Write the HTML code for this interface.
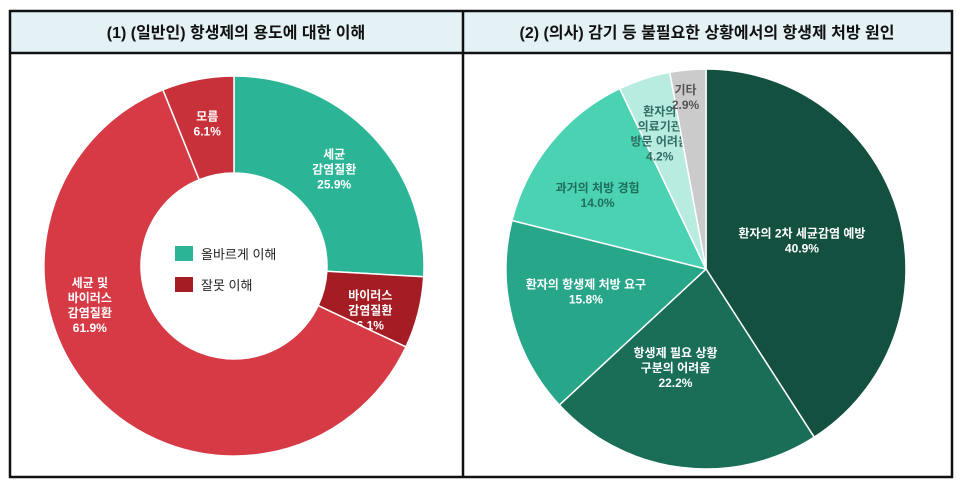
<!DOCTYPE html>
<html><head><meta charset="utf-8"><style>
body{margin:0;background:#fff;font-family:"Liberation Sans","Noto Sans CJK KR",sans-serif;}
#wrap{position:relative;width:960px;height:489px;}
svg text{font-family:"Liberation Sans","Noto Sans CJK KR",sans-serif;}
</style></head><body>
<div id="wrap">
<svg id="svg" width="960" height="489">
<rect x="10" y="11" width="942" height="42" fill="#e4f2f5"/>
<rect x="10" y="11" width="942" height="466" fill="none" stroke="#111" stroke-width="2.5"/>
<line x1="10" y1="53" x2="952" y2="53" stroke="#111" stroke-width="2.5"/>
<line x1="463" y1="11" x2="463" y2="477" stroke="#111" stroke-width="2.5"/>
<text x="236" y="38" text-anchor="middle" font-size="16" font-weight="bold" fill="#111">(1) (일반인) 항생제의 용도에 대한 이해</text>
<text x="707" y="38" text-anchor="middle" font-size="16" font-weight="bold" fill="#111">(2) (의사) 감기 등 불필요한 상황에서의 항생제 처방 원인</text>
<g id="g1"></g><g id="g2"></g>
<rect x="175" y="246" width="18" height="15" fill="#2bb596"/>
<text x="201" y="259" font-size="13" fill="#222">올바르게 이해</text>
<rect x="175" y="277" width="18" height="15" fill="#a51d24"/>
<text x="201" y="290" font-size="13" fill="#222">잘못 이해</text>
</svg></div>
<script>
const donutLabels=[["세균","감염질환"],["바이러스","감염질환"],["세균 및","바이러스","감염질환"],["모름"]];
const donutValues=[25.9,6.1,61.9,6.1];
const donutColors=["#2bb596","#a51d24","#d63a45","#c9313a"];
const pieLabels=[["환자의 2차 세균감염 예방"],["항생제 필요 상황","구분의 어려움"],["환자의 항생제 처방 요구"],["과거의 처방 경험"],["환자의","의료기관","방문 어려움"],["기타"]];
const pieValues=[40.9,22.2,15.8,14.0,4.2,2.9];
const pieColors=["#13503f","#1a6e58","#27a68a","#4bd2b3","#b9ece0","#cbcbcb"];
const NS="http://www.w3.org/2000/svg";
function pt(cx,cy,r,a){return [cx+r*Math.sin(a),cy-r*Math.cos(a)];}
function slice(cx,cy,R,r,a0,a1){
  const big=(a1-a0)>Math.PI?1:0;
  const p0=pt(cx,cy,R,a0),p1=pt(cx,cy,R,a1);
  let d=`M${p0[0]},${p0[1]} A${R},${R} 0 ${big} 1 ${p1[0]},${p1[1]}`;
  if(r>0){const q1=pt(cx,cy,r,a1),q0=pt(cx,cy,r,a0);d+=` L${q1[0]},${q1[1]} A${r},${r} 0 ${big} 0 ${q0[0]},${q0[1]} Z`;}
  else d+=` L${cx},${cy} Z`;
  return d;
}
function draw(gid,vals,labs,cols,cx,cy,R,r,kArr,nameP,textCols){
  const g=document.getElementById(gid);
  const tot=vals.reduce((a,b)=>a+b,0);
  let acc=0;
  vals.forEach((v,i)=>{
    const a0=acc/tot*2*Math.PI;acc+=v;const a1=acc/tot*2*Math.PI;
    const p=document.createElementNS(NS,"path");
    p.setAttribute("d",slice(cx,cy,R,r,a0,a1));
    p.setAttribute("fill",cols[i]);p.setAttribute("stroke","#fff");p.setAttribute("stroke-width","1.5");
    
    
    g.appendChild(p);
    const am=(a0+a1)/2;const k=kArr[i];
    const c=pt(cx,cy,R*k[0],am);
    const lines=labs[i].concat([v.toFixed(1)+"%"]);
    const t=document.createElementNS(NS,"text");
    t.setAttribute("text-anchor","middle");t.setAttribute("font-size","12");t.setAttribute("font-weight","bold");
    t.setAttribute("fill",textCols[i]);
    
    
    const lh=15,y0=c[1]+k[2]-(lines.length-1)*lh/2+4;
    lines.forEach((s,j)=>{const ts=document.createElementNS(NS,"tspan");ts.setAttribute("x",c[0]+k[1]);ts.setAttribute("y",y0+j*lh);ts.textContent=s;t.appendChild(ts);});
    g.appendChild(t);
  });
}
draw("g1",donutValues,donutLabels,donutColors,234,266,190,93,
  [[0.74,-2,0],[0.74,0,10],[0.74,-42,-57],[0.74,0,-4]],"donut",["#fff","#fff","#fff","#fff"]);
draw("g2",pieValues,pieLabels,pieColors,706,269,200,0,
  [[0.5,0,0],[0.5,-18,0],[0.62,0,-8],[0.7,0,15],[0.7,-3,-2],[0.85,-5,-2]],"pie",["#fff","#fff","#fff","#1e6e5a","#2f6e60","#555"]);
</script>
</body></html>
